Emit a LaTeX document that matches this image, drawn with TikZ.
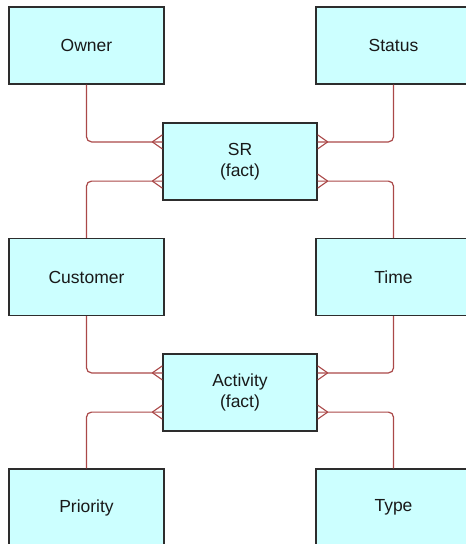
\documentclass[tikz,border=0pt]{standalone}
\usepackage{fontspec}
\setmainfont{Liberation Sans}
\usetikzlibrary{calc}
\definecolor{boxfill}{RGB}{204,255,255}
\definecolor{boxline}{RGB}{45,45,45}
\definecolor{relline}{RGB}{170,72,72}
\tikzset{
  ent/.style={draw=boxline, line width=1.4pt, fill=boxfill, rectangle,
    minimum width=155pt, minimum height=77pt, inner sep=0pt, align=center,
    font=\fontsize{17.5}{21}\selectfont, text=black!90},
  rel/.style={draw=relline, line width=1.2pt, rounded corners=5pt},
  foot/.style={draw=relline, line width=1.1pt}
}
\newcommand\footLeft[1]{\draw[foot] ($(#1)+(-10,0)$) -- ($(#1)+(0,-7)$) ($(#1)+(-10,0)$) -- ($(#1)+(0,7)$);}
\newcommand\footRight[1]{\draw[foot] ($(#1)+(10,0)$) -- ($(#1)+(0,-7)$) ($(#1)+(10,0)$) -- ($(#1)+(0,7)$);}
\begin{document}
\begin{tikzpicture}[x=1pt,y=-1pt]
\useasboundingbox (0,0) rectangle (466,544);
\clip (0,0) rectangle (466,544);
\node[ent] (owner) at (86.5,45.5) {Owner};
\node[ent] (status) at (393.5,45.5) {Status};
\node[ent, minimum width=154pt] (sr) at (240,161.5) {SR\\(fact)};
\node[ent] (customer) at (86.5,277) {Customer};
\node[ent] (time) at (393.5,277) {Time};
\node[ent, minimum width=154pt] (activity) at (240,392.5) {Activity\\(fact)};
\node[ent] (priority) at (86.5,507.5) {Priority};
\node[ent] (type) at (393.5,507.5) {Type};
% attachment points
\coordinate (srL1) at ($(sr.north west)!0.25!(sr.south west)$);
\coordinate (srL2) at ($(sr.north west)!0.75!(sr.south west)$);
\coordinate (srR1) at ($(sr.north east)!0.25!(sr.south east)$);
\coordinate (srR2) at ($(sr.north east)!0.75!(sr.south east)$);
\coordinate (acL1) at ($(activity.north west)!0.25!(activity.south west)$);
\coordinate (acL2) at ($(activity.north west)!0.75!(activity.south west)$);
\coordinate (acR1) at ($(activity.north east)!0.25!(activity.south east)$);
\coordinate (acR2) at ($(activity.north east)!0.75!(activity.south east)$);
% connectors
\draw[rel] (owner.south) |- (srL1);
\draw[rel] (customer.north) |- (srL2);
\draw[rel] (status.south) |- (srR1);
\draw[rel] (time.north) |- (srR2);
\draw[rel] (customer.south) |- (acL1);
\draw[rel] (priority.north) |- (acL2);
\draw[rel] (time.south) |- (acR1);
\draw[rel] (type.north) |- (acR2);
% crow's feet
\footLeft{srL1}\footLeft{srL2}\footRight{srR1}\footRight{srR2}
\footLeft{acL1}\footLeft{acL2}\footRight{acR1}\footRight{acR2}
\end{tikzpicture}
\end{document}
